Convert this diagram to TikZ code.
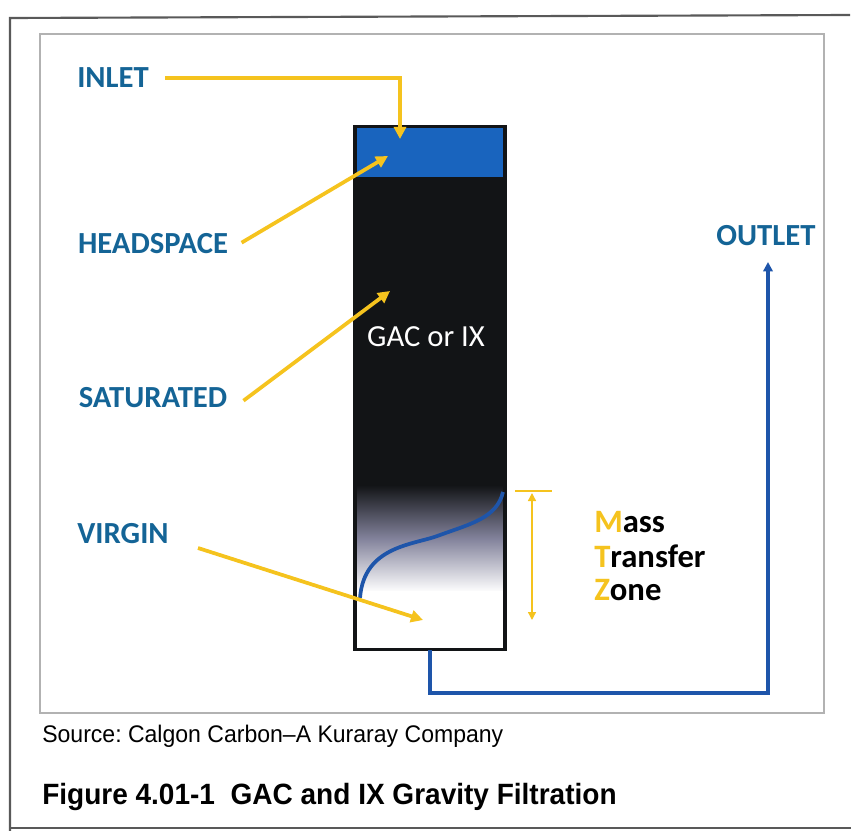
\documentclass[tikz,border=0pt]{standalone}
\usepackage{fontspec}
\setmainfont{Carlito}
\newfontfamily\arialf{Liberation Sans}
\usetikzlibrary{arrows.meta}
\frenchspacing
\definecolor{lblue}{RGB}{20,100,150}
\definecolor{ayellow}{RGB}{245,195,30}
\definecolor{oblue}{RGB}{30,85,170}
\definecolor{headblue}{RGB}{25,100,190}
\definecolor{colblack}{RGB}{18,20,22}
\tikzset{
  lbl/.style={font=\bfseries\fontsize{23}{26}\selectfont, text=lblue, inner sep=0pt},
  yarrow/.style={draw=ayellow, line width=2.8, -{Triangle[length=9pt,width=9pt]}},
  barrow/.style={draw=oblue, line width=2.4, -{Triangle[length=7pt,width=7pt]}},
  mtz/.style={font=\bfseries\fontsize{24.5}{28}\selectfont, inner sep=0pt, anchor=west},
}
\begin{document}
\begin{tikzpicture}[x=0.75pt,y=-0.75pt]
\useasboundingbox (0,0) rectangle (851,831);
% frames
\draw[gray!70!black, line width=1.6] (10,850) -- (10,18) -- (850,15);
\draw[gray!70!black, line width=1.6] (10,828) -- (851,828);
\draw[gray!60, line width=0.8] (40,34) rectangle (824,713);
% column
\fill[headblue] (355,126) rectangle (505,177);
\fill[colblack] (355,177) rectangle (505,486);
\shade[top color=colblack, bottom color=white, middle color={rgb,255:red,130;green,130;blue,155}] (355,485) rectangle (505,592);
\fill[white] (355,591) rectangle (505,648);
\node[draw=colblack, line width=2.4, minimum width=150*0.75pt, minimum height=523*0.75pt, inner sep=0pt] (col) at (430,388) {};
\node[text=white, font=\fontsize{23}{26}\selectfont, inner sep=0pt] (gac) at (426,337) {GAC or IX};
% S curve
\draw[oblue, line width=2.8] (360,598) .. controls (364,545) and (415,545) .. (440,535) .. controls (470,524) and (497,518) .. (503,492);
% labels
\node[lbl] (inlet) at (113,78) {INLET};
\node[lbl] (headspace) at (153,244) {HEADSPACE};
\node[lbl] (saturated) at (153,398) {SATURATED};
\node[lbl] (virgin) at (123,534) {VIRGIN};
\node[lbl] (outlet) at (766,236) {OUTLET};
% yellow arrows
\coordinate (inletend) at (400,139);
\coordinate (headend) at (388,156);
\coordinate (satend) at (390,291);
\coordinate (virgstart) at (198,548);
\coordinate (virgend) at (423,620);
\draw[yarrow] ([xshift=12]inlet.east) -| (inletend);
\draw[yarrow] ([xshift=10,yshift=1]headspace.east) -- (headend);
\draw[yarrow] ([xshift=12,yshift=-2]saturated.east) -- (satend);
\draw[yarrow] (virgstart) -- (virgend);
% outlet
\coordinate (colbot) at (430,650);
\coordinate (outend) at (768,262);
\draw[barrow] (colbot) -- (430,693) -| (outend);
% mass transfer zone dimension
\coordinate (mtztop) at (532,493);
\coordinate (mtzbot) at (532,620);
\draw[ayellow, line width=0.8] (515,491) -- (552,491);
\draw[ayellow, line width=1, {Triangle[length=6pt,width=6pt]}-{Triangle[length=6pt,width=6pt]}] (mtztop) -- (mtzbot);
\node[mtz] (m1) at (594,522) {\textcolor{ayellow}{M}ass};
\node[mtz] (m2) at (594,556) {\textcolor{ayellow}{T}ransfer};
\node[mtz] (m3) at (594,590) {\textcolor{ayellow}{Z}one};
% captions
\node[anchor=west, inner sep=0pt, font=\arialf\fontsize{18}{21}\selectfont] (src) at (42,736) {\scalebox{0.96}[1]{Source: Calgon Carbon–A Kuraray Company}};
\node[anchor=west, inner sep=0pt, font=\arialf\bfseries\fontsize{22}{25}\selectfont] (fig) at (42,797) {\scalebox{0.955}[1]{Figure 4.01-1\ \ GAC and IX Gravity Filtration}};
\end{tikzpicture}
\end{document}
